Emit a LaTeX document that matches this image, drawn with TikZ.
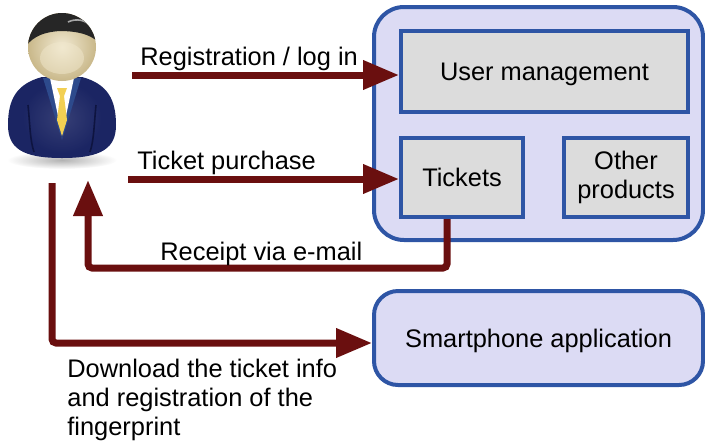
\documentclass[tikz,border=0pt]{standalone}
\usepackage{fontspec}
\setmainfont{Liberation Sans}
\usetikzlibrary{arrows.meta,calc}
\definecolor{arrowred}{HTML}{6A0F0F}
\definecolor{frameblue}{HTML}{2E55A5}
\definecolor{lavender}{HTML}{DCDBF4}
\definecolor{boxgray}{HTML}{DCDCDC}
\definecolor{suit}{HTML}{1B2563}
\definecolor{suitdark}{HTML}{0E1440}
\definecolor{lapel}{HTML}{2D4A8C}
\definecolor{skin}{HTML}{E9DCB6}
\definecolor{skindark}{HTML}{C9B88A}
\definecolor{tie}{HTML}{F2CF52}
\begin{document}
\begin{tikzpicture}[x=0.5pt,y=-0.5pt,
  font=\fontsize{12.7}{14.5}\selectfont,
  flow/.style={draw=arrowred, line width=3.5pt, rounded corners=2pt,
    -{Triangle[length=18pt,width=14pt]}},
  group/.style={draw=frameblue, line width=2pt, fill=lavender,
    rounded corners=15pt, inner sep=0pt},
  module/.style={draw=frameblue, line width=2pt, fill=boxgray,
    inner sep=0pt, align=center},
  label/.style={inner sep=0pt, align=left}]
\useasboundingbox (0,0) rectangle (705,440);

% ---- user figure ----
\shade[inner color=gray!60, outer color=white] (62,160) ellipse [x radius=55, y radius=9];
\fill[suit] (42,77) .. controls (16,84) and (8,100) .. (8,125)
  .. controls (8,148) and (22,158) .. (62,158)
  .. controls (102,158) and (116,148) .. (116,125)
  .. controls (116,100) and (108,84) .. (82,77) -- cycle;
\shade[inner color=suit!80!white, outer color=suit, opacity=0.6]
  (62,118) ellipse [x radius=40, y radius=36];
\draw[suitdark, line width=0.8pt] (28,105) .. controls (30,125) and (30,140) .. (34,152);
\draw[suitdark, line width=0.8pt] (96,105) .. controls (94,125) and (94,140) .. (90,152);
% shirt and lapels
\fill[lapel] (43,78) -- (52,78) -- (62,140) -- cycle;
\fill[lapel] (81,78) -- (72,78) -- (62,140) -- cycle;
\fill[white] (50,78) -- (74,78) -- (62,135) -- cycle;
\fill[tie] (57,88) -- (67,88) -- (64,96) -- (67,120) -- (62,136) -- (57,120) -- (60,96) -- cycle;
% head and hair
\shade[inner color=skin!60!white, outer color=skindark]
  (62,47) circle [radius=34];
\begin{scope}
  \clip (62,47) circle [radius=34];
  \fill[black!85] (26,10) rectangle (100,30);
  \fill[black!85] (26,30) -- (26,46) .. controls (34,36) and (44,32) .. (60,31)
    .. controls (76,31) and (90,34) .. (98,42) -- (98,30) -- cycle;
  \draw[gray!70, line width=0.8pt] (68,22) .. controls (76,18) and (86,20) .. (90,26);
\end{scope}
\fill[skin!70!white, opacity=0.5] (62,58) ellipse [x radius=22, y radius=16];

% anchor points on the figure
\coordinate (regfrom) at (132,75);
\coordinate (buyfrom) at (128,179);
\coordinate (userhand) at (88,180);
\coordinate (userfoot) at (52,183);

% ---- system blocks ----
\node[group, minimum width=164.5pt, minimum height=116.5pt] (sys) at (538.5,123.5) {};
\node[module, text depth=0pt, minimum width=143.5pt, minimum height=40.5pt] (um) at (544.5,71.5) {User management};
\node[module, text depth=0pt, minimum width=61pt, minimum height=39.5pt] (tk) at (462,177.5) {Tickets};
\node[module, minimum width=62pt, minimum height=39.5pt] (op) at (626,177.5) {Other\\products};
\node[group, text depth=0pt, rounded corners=12pt, minimum width=164.5pt, minimum height=47pt] (sp) at (538.5,338) {Smartphone application};

% ---- flows ----
\draw[flow] (regfrom) -- (regfrom -| um.west);
\draw[flow] (buyfrom) -- (buyfrom -| tk.west);
\coordinate (mailout) at ($(tk.south)+(-15,0)$);
\draw[flow] (mailout) -- (mailout |- 0,268) -- (userhand |- 0,268) -- (userhand);
\draw[flow] (userfoot) -- (userfoot |- 0,343) -- (sp.west |- 0,343);

% ---- labels ----
\node[label, anchor=west] (lreg) at (140,59) {Registration / log in};
\node[label, anchor=west] (lbuy) at (137,163) {Ticket purchase};
\node[label, anchor=west] (lmail) at (160,254) {Receipt via e-mail};
\node[label, anchor=north west] (ldl) at (67,359) {Download the ticket info\\and registration of the\\fingerprint};
\end{tikzpicture}
\end{document}
